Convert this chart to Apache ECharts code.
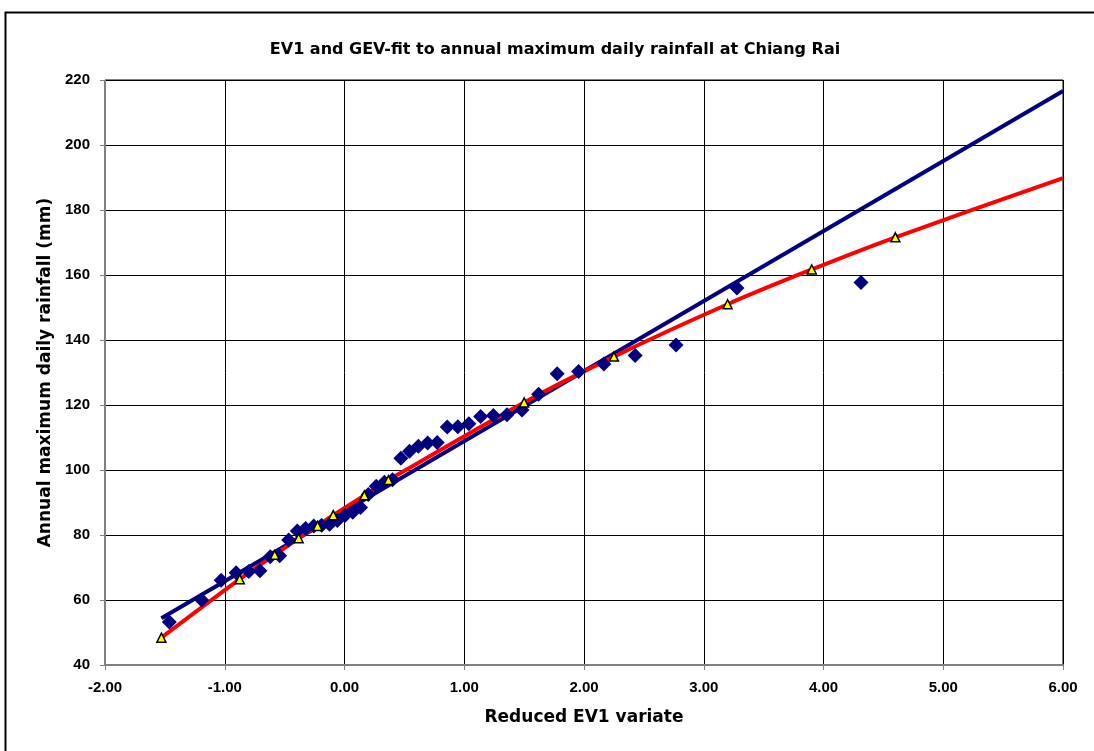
<!DOCTYPE html>
<html>
<head>
<meta charset="utf-8">
<script src="https://cdn.jsdelivr.net/npm/echarts@6/dist/echarts.min.js"></script>
<style>
html,body{margin:0;padding:0;background:#fff;}
#chart{width:1094px;height:751px;}
</style>
</head>
<body>
<div id="chart"></div>
<script>
// Observed annual maxima (reduced variate, rainfall mm)
const obsX = [-1.463,-1.193,-1.030,-0.905,-0.799,-0.706,-0.620,-0.541,-0.466,-0.394,
  -0.325,-0.257,-0.191,-0.125,-0.060,0.004,0.069,0.134,0.199,0.265,
  0.333,0.401,0.471,0.543,0.617,0.694,0.774,0.858,0.946,1.038,
  1.137,1.243,1.357,1.482,1.621,1.776,1.955,2.166,2.427,2.769,
  3.277,4.313];
const obsY = [53.2,60.0,66.1,68.4,68.8,69.0,73.3,73.6,78.5,81.2,
  82.0,82.8,83.0,83.3,84.5,86.0,87.0,88.5,92.5,95.0,
  96.2,97.0,103.6,105.8,107.3,108.3,108.5,113.2,113.3,114.2,
  116.5,116.8,117.0,118.5,123.3,129.6,130.3,132.6,135.2,138.5,
  156.0,157.7];
// EV1 fit line (endpoints)
const ev1X = [-1.529, 6.0];
const ev1Y = [54.4, 216.6];
// GEV fit quantiles (triangles)
const gevX = [-1.529,-0.875,-0.583,-0.383,-0.225,-0.094,0.166,0.367,1.500,2.250,3.199,3.902,4.600];
const gevY = [48.4,66.4,73.9,79.0,82.8,86.1,92.2,96.9,120.8,134.9,151.0,161.7,171.6];
// GEV curve end at right edge of plot
const gevEndX = 6.0;
const gevEndY = 189.8;

const xTicks = {min:-2, max:6, interval:1};
const yTicks = {min:40, max:220, interval:20};

const zip = (a,b) => a.map((v,i)=>[v,b[i]]);
const gevLine = zip(gevX, gevY).concat([[gevEndX, gevEndY]]);

const chart = echarts.init(document.getElementById('chart'), null, {renderer:'canvas'});
const FONT = '"DejaVu Sans", "Liberation Sans", Arial, sans-serif';
const TFONT = '"Liberation Sans", Arial, sans-serif';
chart.setOption({
  animation:false,
  backgroundColor:'#fff',
  graphic:[{
    type:'rect', left:3, top:10, silent:true,
    shape:{x:0,y:0,width:1100,height:760},
    style:{fill:'none', stroke:'#000', lineWidth:2}
  }],
  title:{
    text:'EV1 and GEV-fit to annual maximum daily rainfall at Chiang Rai',
    left:550, top:37, textAlign:'center',
    textStyle:{fontFamily:FONT, fontWeight:'bold', fontSize:16, color:'#000'}
  },
  grid:{left:105, top:80, right:31, bottom:86, show:true, borderColor:'#000', borderWidth:1, backgroundColor:'transparent'},
  xAxis:{
    type:'value', min:xTicks.min, max:xTicks.max, interval:xTicks.interval,
    name:'Reduced EV1 variate', nameLocation:'middle', nameGap:44,
    nameTextStyle:{fontFamily:FONT, fontWeight:'bold', fontSize:17, color:'#000'},
    axisLine:{show:true, onZero:false, lineStyle:{color:'#808080', width:2}},
    axisTick:{show:true, length:5, lineStyle:{color:'#808080'}},
    axisLabel:{fontFamily:TFONT, fontWeight:'bold', fontSize:15, color:'#000', margin:15,
      formatter:v=>v.toFixed(2)},
    splitLine:{show:true, lineStyle:{color:'#000', width:1}}
  },
  yAxis:{
    type:'value', min:yTicks.min, max:yTicks.max, interval:yTicks.interval,
    name:'Annual maximum daily rainfall (mm)', nameLocation:'middle', nameGap:49,
    nameTextStyle:{fontFamily:FONT, fontWeight:'bold', fontSize:17, color:'#000'},
    axisLine:{show:true, onZero:false, lineStyle:{color:'#808080', width:1}},
    axisTick:{show:true, length:5, lineStyle:{color:'#808080'}},
    axisLabel:{fontFamily:TFONT, fontWeight:'bold', fontSize:15, color:'#000', margin:15},
    splitLine:{show:true, lineStyle:{color:'#000', width:1}}
  },
  series:[
    {
      name:'EV1', type:'line', data:zip(ev1X, ev1Y), showSymbol:false, symbol:'none',
      lineStyle:{color:'#000080', width:4}, clip:true, z:2
    },
    {
      name:'GEV', type:'line', data:gevLine, showSymbol:false, symbol:'none', smooth:0.3,
      lineStyle:{color:'#ff0000', width:4}, clip:true, z:3
    },
    {
      name:'Observed', type:'scatter', data:zip(obsX, obsY), symbol:'diamond', symbolSize:15,
      itemStyle:{color:'#000080', opacity:1}, z:4
    },
    {
      name:'GEV points', type:'scatter', data:zip(gevX, gevY), symbol:'triangle', symbolSize:9,
      itemStyle:{color:'#ffff00', borderColor:'#000', borderWidth:1.5, opacity:1}, z:5
    }
  ]
});
</script>
</body>
</html>
